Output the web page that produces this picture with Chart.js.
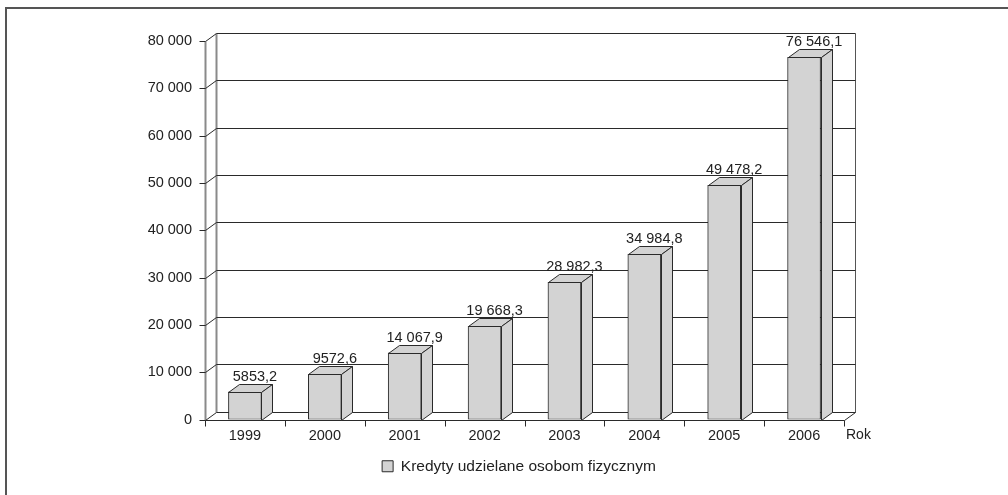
<!DOCTYPE html>
<html>
<head>
<meta charset="utf-8">
<script src="https://cdn.jsdelivr.net/npm/chart.js@4.4.1/dist/chart.umd.min.js"></script>
<style>
  html, body { margin: 0; padding: 0; background: #fff; }
  #wrap { position: relative; width: 1008px; height: 495px; }
</style>
</head>
<body>
<div id="wrap"><canvas id="c" width="1008" height="495"></canvas></div>
<script>
// ---- data ----
const categories = ['1999', '2000', '2001', '2002', '2003', '2004', '2005', '2006'];
const creditValues = [5853.2, 9572.6, 14067.9, 19668.3, 28982.3, 34984.8, 49478.2, 76546.1];
const seriesName = 'Kredyty udzielane osobom fizycznym';
const yTicks = [0, 10000, 20000, 30000, 40000, 50000, 60000, 70000, 80000];
const xAxisTitle = 'Rok';

// Polish number formatting: thousands separated by space only for >= 10 000
function fmt(v, decimals) {
  let s = decimals ? v.toFixed(decimals) : String(Math.round(v));
  let [int, dec] = s.split('.');
  if (int.length > 4) int = int.replace(/\B(?=(\d{3})+(?!\d))/g, ' ');
  return dec ? int + ',' + dec : int;
}

const DX = 11, DY = 8;
const FONT = '"Liberation Sans", Arial, Helvetica, sans-serif';
const LINE_DARK = '#2a2a2a';
const LINE_GRAY = '#8a8a8a';
const FILL = '#d3d3d3';

const threeD = {
  id: 'threeD',
  beforeDraw(chart) {
    const ctx = chart.ctx;
    ctx.save();
    ctx.strokeStyle = '#555';
    ctx.lineWidth = 2;
    ctx.beginPath();
    ctx.moveTo(6, 495);
    ctx.lineTo(6, 8);
    ctx.lineTo(1008, 8);
    ctx.stroke();
    ctx.restore();
  },
  beforeDatasetsDraw(chart) {
    const { ctx, chartArea: a, scales: { x, y } } = chart;
    ctx.save();
    const L = Math.round(a.left) + 0.5;
    const R = Math.round(a.right) + 0.5;
    const B = Math.round(y.getPixelForValue(0)) + 0.5;
    const T = Math.round(y.getPixelForValue(yTicks[yTicks.length - 1])) + 0.5;
    // walls (vertical edges)
    ctx.strokeStyle = LINE_GRAY;
    ctx.lineWidth = 2;
    ctx.beginPath();
    ctx.moveTo(L, T); ctx.lineTo(L, B);
    ctx.moveTo(L + DX, T - DY); ctx.lineTo(L + DX, B - DY);
    ctx.stroke();
    ctx.strokeStyle = '#555';
    ctx.lineWidth = 1;
    ctx.beginPath();
    ctx.moveTo(R + DX, T - DY); ctx.lineTo(R + DX, B - DY);
    ctx.stroke();
    // gridlines on back wall + tick marks + side-wall diagonals
    ctx.strokeStyle = LINE_DARK;
    ctx.lineWidth = 1;
    ctx.beginPath();
    yTicks.forEach(v => {
      const py = Math.round(y.getPixelForValue(v)) + 0.5;
      ctx.moveTo(L - 6, py);
      ctx.lineTo(L, py);
      ctx.lineTo(L + DX, py - DY);
      ctx.lineTo(R + DX, py - DY);
    });
    // front floor edge and right floor diagonal
    ctx.moveTo(L, B); ctx.lineTo(R, B); ctx.lineTo(R + DX, B - DY);
    // x ticks at category boundaries
    const n = categories.length;
    for (let i = 0; i <= n; i++) {
      const px = Math.round(a.left + (a.right - a.left) * i / n) + 0.5;
      ctx.moveTo(px, B); ctx.lineTo(px, B + 6);
    }
    ctx.stroke();
    // axis title "Rok"
    ctx.fillStyle = '#222';
    ctx.font = '14px ' + FONT;
    ctx.textAlign = 'left';
    ctx.textBaseline = 'middle';
    ctx.fillText(xAxisTitle, a.right + 2, B + 15);
    ctx.restore();
  },
  afterDatasetsDraw(chart) {
    const ctx = chart.ctx;
    const meta = chart.getDatasetMeta(0);
    ctx.save();
    ctx.strokeStyle = LINE_DARK;
    ctx.lineWidth = 1;
    ctx.fillStyle = FILL;
    meta.data.forEach((bar, i) => {
      const p = bar.getProps(['x', 'y', 'base', 'width'], true);
      const l = Math.round(p.x - p.width / 2) + 0.5;
      const r = Math.round(p.x + p.width / 2) + 0.5;
      const t = Math.round(p.y) + 0.5;
      const b = Math.round(p.base) + 0.5;
      // top face
      ctx.beginPath();
      ctx.moveTo(l, t); ctx.lineTo(l + DX, t - DY); ctx.lineTo(r + DX, t - DY); ctx.lineTo(r, t); ctx.closePath();
      ctx.fill(); ctx.stroke();
      // side face
      ctx.beginPath();
      ctx.moveTo(r, t); ctx.lineTo(r + DX, t - DY); ctx.lineTo(r + DX, b - DY); ctx.lineTo(r, b); ctx.closePath();
      ctx.fill(); ctx.stroke();
    });
    // value labels
    ctx.fillStyle = '#222';
    ctx.font = '14.5px ' + FONT;
    ctx.textAlign = 'center';
    ctx.textBaseline = 'alphabetic';
    meta.data.forEach((bar, i) => {
      const p = bar.getProps(['x', 'y'], true);
      ctx.fillText(fmt(creditValues[i], 1), p.x + DX - 1, p.y - DY - 3);
    });
    ctx.restore();
  }
};

new Chart(document.getElementById('c'), {
  type: 'bar',
  data: {
    labels: categories,
    datasets: [{
      label: seriesName,
      data: creditValues,
      backgroundColor: FILL,
      borderColor: LINE_DARK,
      borderWidth: 1,
      barThickness: 33,
      borderSkipped: false
    }]
  },
  options: {
    responsive: false,
    animation: false,
    devicePixelRatio: 1,
    layout: { padding: { left: 30, right: 0, top: 41, bottom: 11 } },
    plugins: {
      legend: {
        position: 'bottom',
        labels: {
          boxWidth: 11, boxHeight: 11, padding: 12,
          color: '#222',
          font: { family: FONT, size: 15.5 }
        }
      },
      tooltip: { enabled: false }
    },
    scales: {
      x: {
        grid: { display: false, drawTicks: false },
        border: { display: false },
        ticks: { color: '#222', font: { family: FONT, size: 14.5 }, padding: 8, maxRotation: 0 },
        afterFit(s) { s.height = 27; }
      },
      y: {
        min: 0, max: 80000,
        grid: { display: false, drawTicks: false },
        border: { display: false },
        afterFit(s) { s.width = 175; },
        afterBuildTicks(s) { s.ticks = yTicks.map(v => ({ value: v })); },
        ticks: {
          color: '#222', font: { family: FONT, size: 14.5 }, padding: 13,
          callback: v => fmt(v, 0)
        }
      },
      yRightSpacer: {
        type: 'linear',
        position: 'right',
        min: 0, max: 1,
        grid: { display: false, drawTicks: false },
        border: { display: false },
        ticks: { display: false },
        afterFit(s) { s.width = 164; }
      }
    }
  },
  plugins: [threeD]
});
</script>
</body>
</html>
